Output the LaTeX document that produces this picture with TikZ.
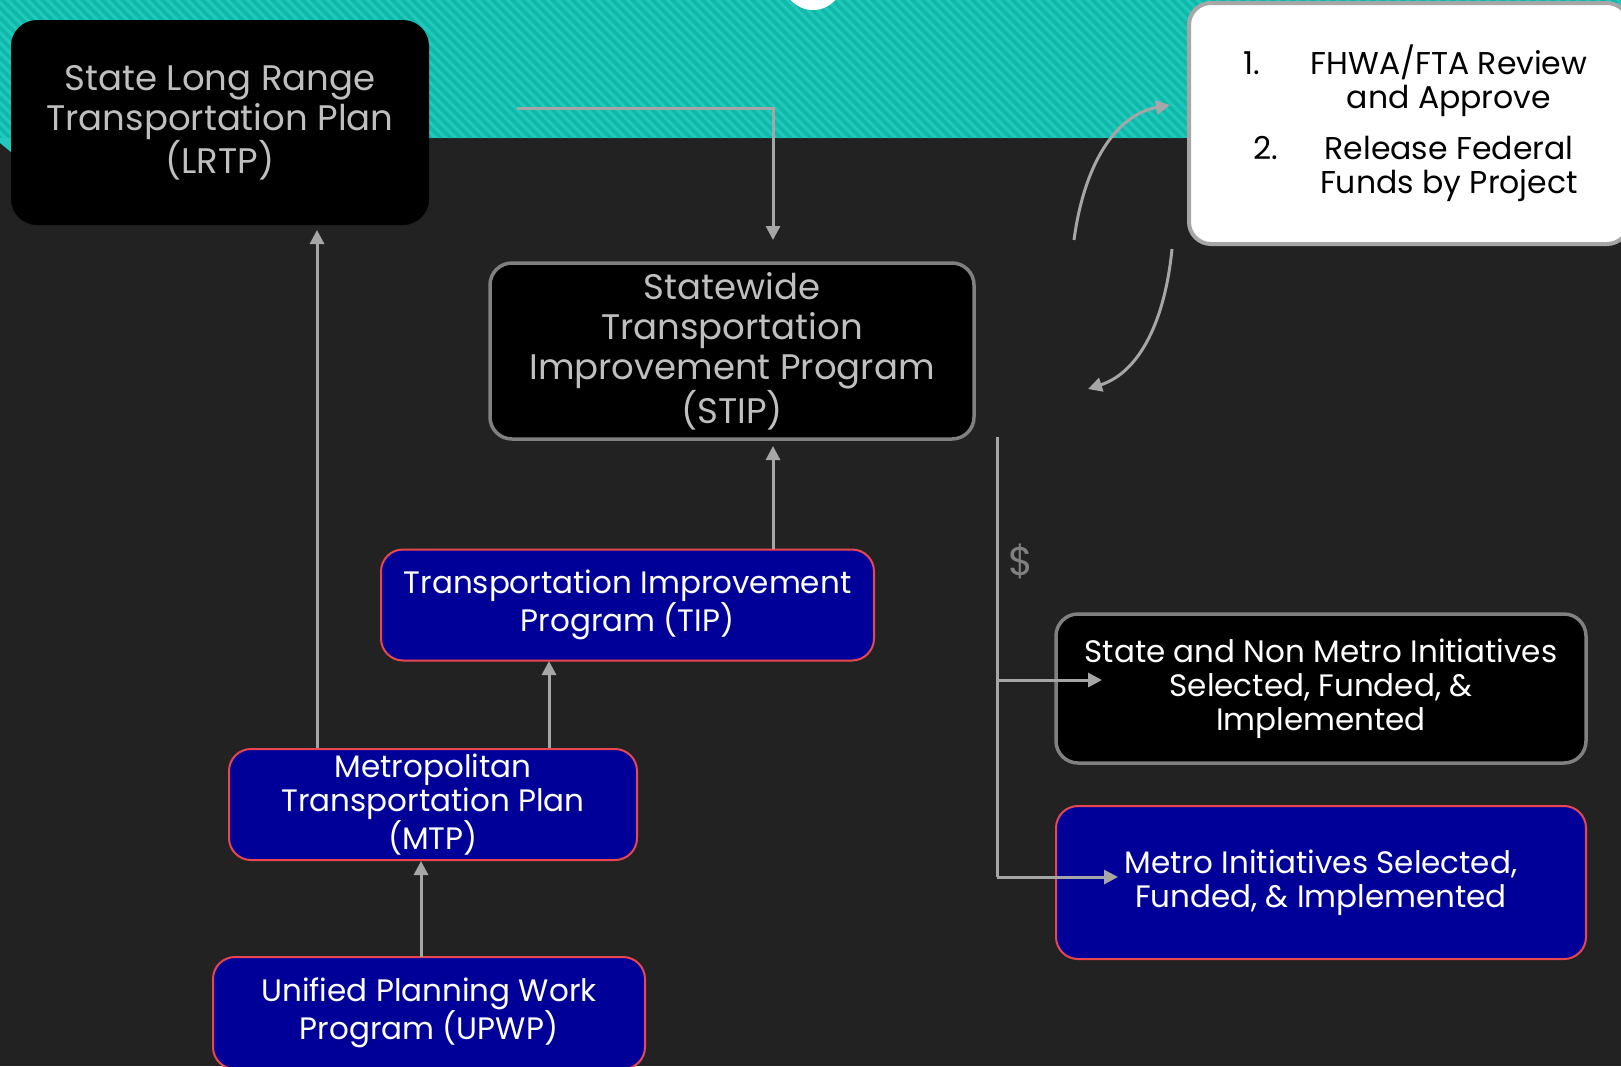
\documentclass[tikz,border=0pt]{standalone}
\usepackage{fontspec}
\setmainfont{Poppins}
\usetikzlibrary{arrows.meta}
\definecolor{bg}{HTML}{222222}
\definecolor{tealA}{HTML}{20C9BB}
\definecolor{tealB}{HTML}{10B8AA}
\definecolor{navy}{HTML}{000099}
\definecolor{redb}{HTML}{E8474F}
\definecolor{grayb}{HTML}{808080}
\definecolor{wgray}{HTML}{A6A6A6}
\definecolor{conncol}{HTML}{A6A6A6}
\definecolor{lgray}{HTML}{BFBFBF}
\begin{document}
\begin{tikzpicture}[x=1pt,y=-1pt,
  box/.style={rounded corners=22pt, align=center, inner sep=0pt},
  bigtext/.style={font=\fontsize{35.5}{40}\selectfont},
  smalltext/.style={font=\fontsize{31}{34}\selectfont},
  blackbox/.style={box, fill=black, draw=grayb, line width=3.5pt, text=white, smalltext},
  bluebox/.style={box, fill=navy, draw=redb, line width=2pt, text=white, smalltext},
  conn/.style={draw=conncol, line width=3pt, -{Triangle[length=14pt,width=14pt]}},
  plain/.style={draw=conncol, line width=3pt},
]
% canvas
\useasboundingbox (0,0) rectangle (1621,1066);
\fill[bg] (0,0) rectangle (1621,1066);
% striped teal band
\begin{scope}
  \clip (0,0) rectangle (1621,138);
  \fill[tealA] (0,0) rectangle (1621,138);
  \foreach \i in {-20,...,180} {
    \fill[tealB] (\i*10,0) -- (\i*10+5,0) -- (\i*10+143,138) -- (\i*10+138,138) -- cycle;
  }
\end{scope}
\fill[tealA] (0,138) -- (0,143) -- (11,152) -- (11,138) -- cycle;
% white circle at top
\fill[white] (813,-20) circle (30);

% boxes
\node[box, fill=black, text=lgray, bigtext, minimum width=418pt, minimum height=205pt, rounded corners=26pt]
  (lrtp) at (220,122.5) {State Long Range\\Transportation Plan\\(LRTP)};
\node[blackbox, text=lgray, bigtext, minimum width=484pt, minimum height=176pt]
  (stip) at (732,351) {Statewide\\Transportation\\Improvement Program\\(STIP)};
\node[box, fill=white, draw=wgray, line width=4pt, minimum width=440pt, minimum height=241pt]
  (wb) at (1409,123.5) {};
\node[align=center, inner sep=0pt, text=black, font=\fontsize{31.5}{34}\selectfont] (wbt) at (1449,123.5)
  {FHWA/FTA Review\\and Approve\\[17pt]Release Federal\\Funds by Project};
\node[inner sep=0pt, text=black, font=\fontsize{31.5}{34}\selectfont] (n1) at (1252,63) {1.};
\node[inner sep=0pt, text=black, font=\fontsize{31.5}{34}\selectfont] (n2) at (1266,148) {2.};
\node[bluebox, minimum width=493pt, minimum height=111pt]
  (tip) at (627.5,605) {Transportation Improvement\\Program (TIP)};
\node[bluebox, minimum width=408pt, minimum height=111pt]
  (mtp) at (433,804.5) {Metropolitan\\Transportation Plan\\(MTP)};
\node[bluebox, minimum width=432pt, minimum height=112pt]
  (upwp) at (429,1013) {Unified Planning Work\\Program (UPWP)};
\node[blackbox, minimum width=530pt, minimum height=149pt]
  (snm) at (1321,688.5) {State and Non Metro Initiatives\\Selected, Funded, \&\\Implemented};
\node[bluebox, minimum width=530pt, minimum height=153pt]
  (metro) at (1321,882.5) {Metro Initiatives Selected,\\Funded, \& Implemented};
\node[text=grayb, font=\fontsize{40}{48}\selectfont, inner sep=0pt] (dollar) at (1021,561) {\$};

% connector end points
\coordinate (a1) at (517,108);
\coordinate (a2) at (773,240);
\coordinate (b1) at (317,748);
\coordinate (b2) at (317,230);
\coordinate (c1) at (773,549);
\coordinate (c2) at (773,446);
\coordinate (d1) at (549,748);
\coordinate (d2) at (549,661);
\coordinate (e1) at (421,957);
\coordinate (e2) at (421,861);
\coordinate (f0) at (997,437);
\coordinate (f1) at (997,680);
\coordinate (f2) at (1102,680);
\coordinate (f3) at (997,877);
\coordinate (f4) at (1118,877);
\coordinate (g1) at (1074,240);
\coordinate (g2) at (1170,105);
\coordinate (h1) at (1172,249);
\coordinate (h2) at (1088,389);

% connectors
\draw[conn] (a1) -| (a2);
\draw[conn] (b1) -- (b2);
\draw[conn] (c1) -- (c2);
\draw[conn] (d1) -- (d2);
\draw[conn] (e1) -- (e2);
\draw[plain] (f0) -- (f3);
\draw[conn] (f1) -- (f2);
\draw[conn] (f3) -- (f4);
\draw[conn] (g1) .. controls (1084,165) and (1115,115) .. (g2);
\draw[conn] (h1) .. controls (1165,320) and (1140,372) .. (h2);
\end{tikzpicture}
\end{document}
